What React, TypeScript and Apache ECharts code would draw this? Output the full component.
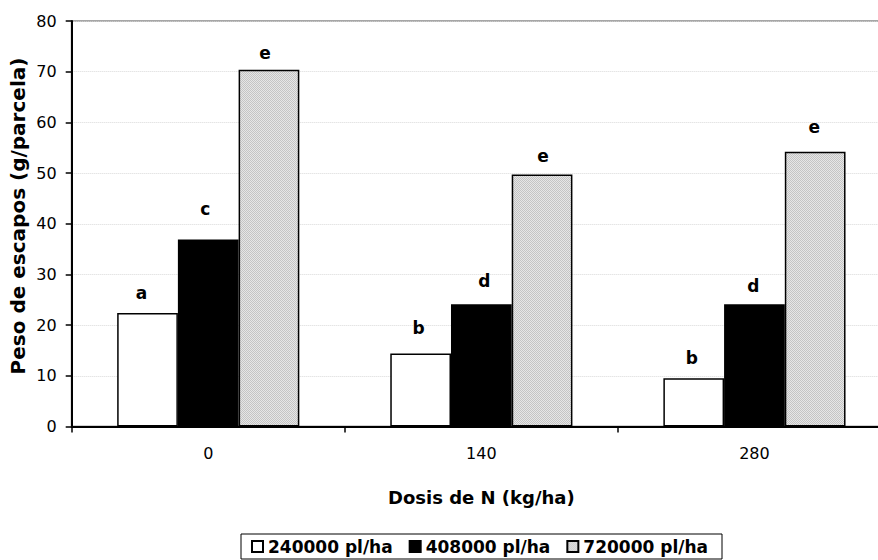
import React, { useEffect, useRef } from "react";
import * as echarts from "echarts";

// ---- data ----
const categories = ["0", "140", "280"];
const seriesNames = ["240000 pl/ha", "408000 pl/ha", "720000 pl/ha"];
const values240 = [22.4, 14.4, 9.5];
const values408 = [36.9, 24.1, 24.1];
const values720 = [70.4, 49.7, 54.2];
const letters240 = ["a", "b", "b"];
const letters408 = ["c", "d", "d"];
const letters720 = ["e", "e", "e"];
const yMin = 0;
const yMax = 80;
const yStep = 10;
const xTitle = "Dosis de N (kg/ha)";
const yTitle = "Peso de escapos (g/parcela)";

// ---- label placement (style, not data) ----
const lift240 = [11, 17, 12];
const lift408 = [22, 15, 10];
const lift720 = [8, 10, 16];
const nudge240 = [-6, -2, -2];
const nudge408 = [-3, 3, -1];
const nudge720 = [-4, 1, -1];

const FONT = "'DejaVu Sans', 'Liberation Sans', Arial, sans-serif";

function makePattern(): HTMLCanvasElement {
  const c = document.createElement("canvas");
  c.width = 2;
  c.height = 2;
  const ctx = c.getContext("2d")!;
  ctx.fillStyle = "#e6e6e6";
  ctx.fillRect(0, 0, 2, 2);
  ctx.fillStyle = "#c4c4c4";
  ctx.fillRect(0, 0, 1, 1);
  ctx.fillRect(1, 1, 1, 1);
  return c;
}

function buildData(values: number[], letters: string[], lift: number[], nudge: number[]) {
  return values.map((v, i) => ({
    value: v,
    label: {
      formatter: letters[i],
      distance: lift[i],
      offset: [nudge[i], 0],
    },
  }));
}

export default function App() {
  const ref = useRef<HTMLDivElement>(null);

  useEffect(() => {
    if (!ref.current) return;
    const chart = echarts.init(ref.current, undefined, { renderer: "svg" });
    const pattern = makePattern();

    const labelStyle = {
      show: true,
      position: "top" as const,
      fontFamily: FONT,
      fontWeight: "bold" as const,
      fontSize: 17,
      color: "#000",
    };

    chart.setOption({
      animation: false,
      backgroundColor: "#fff",
      grid: {
        left: 71.7,
        top: 21,
        width: 819.3,
        height: 405.5,
        show: true,
        borderColor: "#a6a6a6",
        borderWidth: 2,
        backgroundColor: "transparent",
      },
      legend: {
        data: seriesNames,
        left: 241,
        top: 534,
        orient: "horizontal",
        icon: "rect",
        itemWidth: 11,
        itemHeight: 11,
        itemGap: 16,
        padding: [4, 14, 4, 10],
        borderColor: "#000",
        borderWidth: 1,
        textStyle: {
          fontFamily: FONT,
          fontWeight: "bold",
          fontSize: 17,
          color: "#000",
        },
      },
      graphic: [
        {
          type: "text",
          x: 18,
          y: 216,
          rotation: Math.PI / 2,
          style: {
            text: yTitle,
            fontFamily: FONT,
            fontWeight: "bold",
            fontSize: 20,
            fill: "#000",
            align: "center",
            verticalAlign: "middle",
          },
        },
      ],
      xAxis: {
        type: "category",
        data: categories,
        name: xTitle,
        nameLocation: "middle",
        nameGap: 62,
        nameTextStyle: {
          fontFamily: FONT,
          fontWeight: "bold",
          fontSize: 18,
          color: "#000",
        },
        axisLine: { show: true, lineStyle: { color: "#000", width: 2 } },
        axisTick: { show: true, length: 6, lineStyle: { color: "#000", width: 1.5 } },
        axisLabel: {
          margin: 19,
          fontFamily: FONT,
          fontSize: 16,
          color: "#000",
        },
        splitLine: { show: false },
      },
      yAxis: {
        type: "value",
        min: yMin,
        max: yMax,
        interval: yStep,
        axisLine: { show: true, lineStyle: { color: "#000", width: 2 } },
        axisTick: { show: true, length: 6, lineStyle: { color: "#000", width: 1.5 } },
        axisLabel: {
          margin: 15,
          fontFamily: FONT,
          fontSize: 16,
          color: "#000",
        },
        splitLine: {
          show: true,
          lineStyle: { color: "#d9d9d9", width: 1, type: "dotted" },
        },
      },
      series: [
        {
          name: seriesNames[0],
          type: "bar",
          barGap: "0%",
          barCategoryGap: "33.3%",
          data: buildData(values240, letters240, lift240, nudge240),
          itemStyle: { color: "#ffffff", borderColor: "#000", borderWidth: 1.5 },
          label: labelStyle,
        },
        {
          name: seriesNames[1],
          type: "bar",
          barGap: "0%",
          barCategoryGap: "33.3%",
          data: buildData(values408, letters408, lift408, nudge408),
          itemStyle: { color: "#000000", borderColor: "#000", borderWidth: 1.5 },
          label: labelStyle,
        },
        {
          name: seriesNames[2],
          type: "bar",
          barGap: "0%",
          barCategoryGap: "33.3%",
          data: buildData(values720, letters720, lift720, nudge720),
          itemStyle: {
            color: { image: pattern, repeat: "repeat" },
            borderColor: "#000",
            borderWidth: 1.5,
          },
          label: labelStyle,
        },
      ],
    });

    return () => {
      chart.dispose();
    };
  }, []);

  return (
    <div
      style={{
        position: "absolute",
        left: 0,
        top: 0,
        width: 878,
        height: 560,
        overflow: "hidden",
        background: "#fff",
      }}
    >
      <div ref={ref} style={{ width: 905, height: 560 }} />
    </div>
  );
}
